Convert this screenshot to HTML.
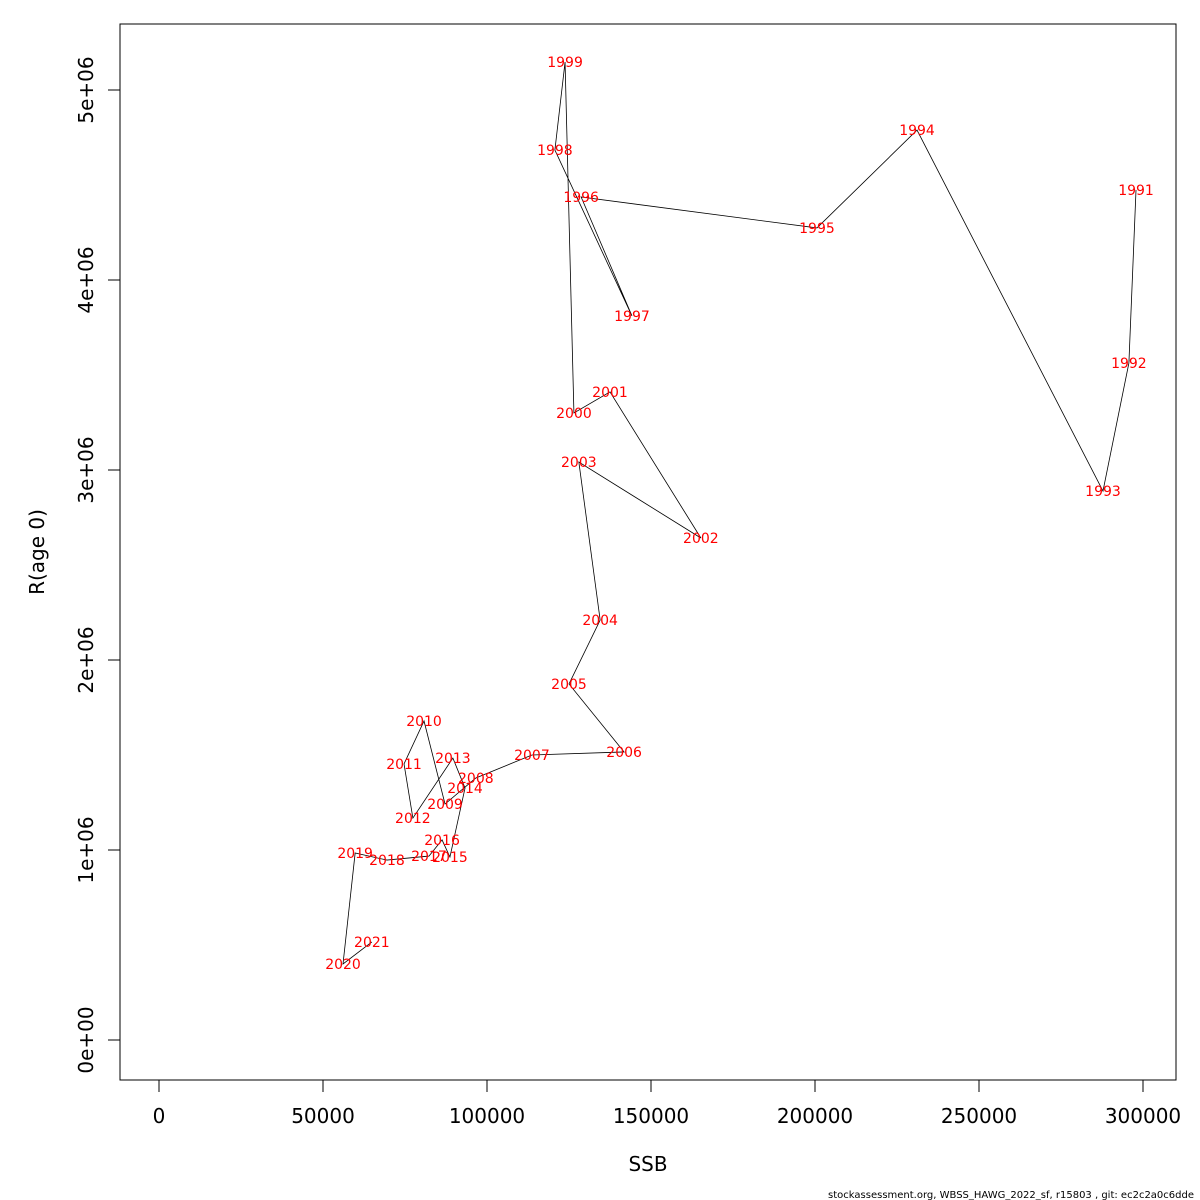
<!DOCTYPE html>
<html><head><meta charset="utf-8"><style>
html,body{margin:0;padding:0;background:#fff;}
svg{display:block;font-family:"DejaVu Sans","Liberation Sans",sans-serif;}
</style></head><body>
<svg id="chart" width="1200" height="1200">
<rect x="120" y="24" width="1056" height="1056" fill="none" stroke="#000" stroke-width="1"/>
<g id="xaxis"></g>
<g id="yaxis"></g>
<polyline id="path" fill="none" stroke="#000" stroke-width="0.8"/>
<g id="labels"></g>
<text x="648" y="1171" font-size="20" text-anchor="middle">SSB</text>
<text transform="translate(44,552) rotate(-90)" font-size="20" text-anchor="middle">R(age 0)</text>
<text x="1194" y="1198" font-size="10" text-anchor="end">stockassessment.org, WBSS_HAWG_2022_sf, r15803 , git: ec2c2a0c6dde</text>
</svg>
<script>
const years=[1991,1992,1993,1994,1995,1996,1997,1998,1999,2000,2001,2002,2003,2004,2005,2006,2007,2008,2009,2010,2011,2012,2013,2014,2015,2016,2017,2018,2019,2020,2021];
const ssb=[297870,295700,287800,231100,200600,128700,144200,120700,123800,126500,137500,165200,128000,134500,125000,141800,113700,96600,87200,80800,74700,77400,89600,93300,88700,86300,82300,69500,59800,56100,64900];
const rec=[4474000,3563000,2889000,4789000,4274000,4437000,3811000,4684000,5147000,3300000,3411000,2642000,3042000,2210000,1874000,1516000,1500000,1379000,1242000,1679000,1453000,1168000,1484000,1326000,963000,1053000,968000,947000,984000,400000,516000];
const xTicks=[0,50000,100000,150000,200000,250000,300000];
const yTicks=[0,1e6,2e6,3e6,4e6,5e6];
const yTickLabels=["0e+00","1e+06","2e+06","3e+06","4e+06","5e+06"];
const X=v=>159+v*0.00328;
const Y=v=>1040-v*0.00019;
const NS="http://www.w3.org/2000/svg";
function mk(t,a,p){const e=document.createElementNS(NS,t);for(const k in a)e.setAttribute(k,a[k]);p.appendChild(e);return e;}
const xa=document.getElementById('xaxis');
mk('line',{x1:X(0),x2:X(300000),y1:1080,y2:1080,stroke:'#000'},xa);
xTicks.forEach(v=>{
 const l=mk('line',{x1:X(v),x2:X(v),y1:1080,y2:1092,stroke:'#000'},xa);
 
 
 const t=mk('text',{x:X(v),y:1123,'font-size':20,'text-anchor':'middle'},xa);
 t.textContent=String(v);
 
 
});
const ya=document.getElementById('yaxis');
mk('line',{x1:120,x2:120,y1:Y(0),y2:Y(5e6),stroke:'#000'},ya);
yTicks.forEach((v,i)=>{
 const l=mk('line',{x1:108,x2:120,y1:Y(v),y2:Y(v),stroke:'#000'},ya);
 
 
 const t=mk('text',{transform:`translate(93,${Y(v)}) rotate(-90)`,'font-size':20,'text-anchor':'middle'},ya);
 t.textContent=yTickLabels[i];
 
 
});
document.getElementById('path').setAttribute('points',ssb.map((s,i)=>X(s)+','+Y(rec[i])).join(' '));
const lg=document.getElementById('labels');
years.forEach((yr,i)=>{
 const t=mk('text',{x:X(ssb[i]),y:Y(rec[i])+5,'font-size':14,fill:'#ff0000','text-anchor':'middle'},lg);
 t.textContent=String(yr);
 
 
});
</script>
</body></html>
